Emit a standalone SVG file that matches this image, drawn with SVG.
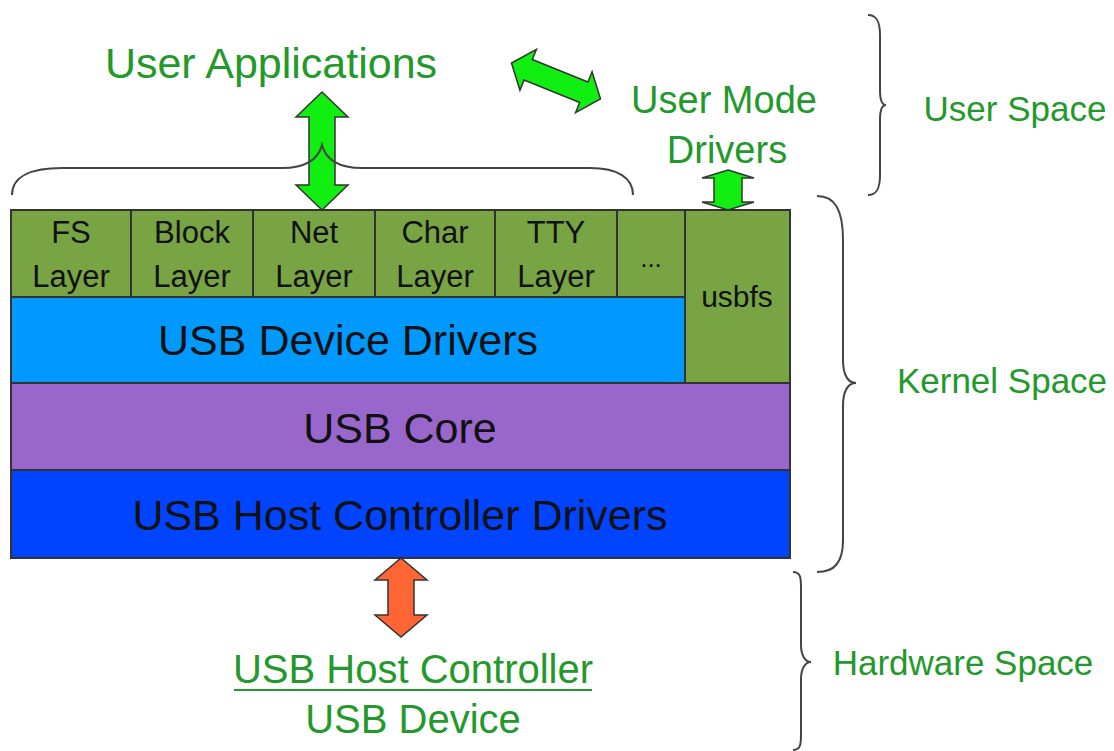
<svg xmlns="http://www.w3.org/2000/svg" width="1114" height="751" viewBox="0 0 1114 751">
<style>
.blk{stroke:#333;stroke-width:2}
.lay{fill:#78a444}
.t{font-family:"Liberation Sans",Arial,sans-serif;fill:#111;text-anchor:middle}
.g{font-family:"Liberation Sans",Arial,sans-serif;fill:#22992a;text-anchor:middle}
.br{fill:none;stroke:#444;stroke-width:2}
.ag{fill:#11ee11;stroke:#333;stroke-width:1.5}
.ao{fill:#ff6633;stroke:#333;stroke-width:1.5}
</style>
<rect width="1114" height="751" fill="#ffffff"/>
<g id="fs-layer"><rect class="blk lay" x="11" y="210" width="120" height="87"/><text class="t" font-size="31" x="71" y="243">FS</text><text class="t" font-size="31" x="71" y="287">Layer</text></g>
<g id="block-layer"><rect class="blk lay" x="131" y="210" width="122" height="87"/><text class="t" font-size="31" x="192" y="243">Block</text><text class="t" font-size="31" x="192" y="287">Layer</text></g>
<g id="net-layer"><rect class="blk lay" x="253" y="210" width="122" height="87"/><text class="t" font-size="31" x="314" y="243">Net</text><text class="t" font-size="31" x="314" y="287">Layer</text></g>
<g id="char-layer"><rect class="blk lay" x="375" y="210" width="120" height="87"/><text class="t" font-size="31" x="435" y="243">Char</text><text class="t" font-size="31" x="435" y="287">Layer</text></g>
<g id="tty-layer"><rect class="blk lay" x="495" y="210" width="122" height="87"/><text class="t" font-size="31" x="556" y="243">TTY</text><text class="t" font-size="31" x="556" y="287">Layer</text></g>
<g id="more-layer"><rect class="blk lay" x="617" y="210" width="68" height="87"/><text class="t" font-size="26" x="651" y="267">...</text></g>
<g id="usbfs"><rect class="blk lay" x="685" y="210" width="105" height="173"/><text class="t" font-size="30" x="737" y="307">usbfs</text></g>
<g id="usb-device-drivers"><rect class="blk" fill="#0099ff" x="11" y="297" width="674" height="86"/><text class="t" font-size="43" x="348" y="355">USB Device Drivers</text></g>
<g id="usb-core"><rect class="blk" fill="#9966cc" x="11" y="383" width="779" height="87"/><text class="t" font-size="43" x="400" y="443">USB Core</text></g>
<g id="usb-hcd"><rect class="blk" fill="#0044ff" x="11" y="470" width="779" height="88"/><text class="t" font-size="43" x="400" y="530">USB Host Controller Drivers</text></g>
<g id="user-applications"><text class="g" font-size="43" x="271" y="78">User Applications</text></g>
<g id="user-mode-drivers"><text class="g" font-size="38" x="724" y="113">User Mode</text><text class="g" font-size="38" x="727" y="163">Drivers</text></g>
<g id="usb-hw"><text class="g" font-size="40" x="413" y="683">USB Host Controller</text><line x1="234" y1="690" x2="592" y2="690" stroke="#22992a" stroke-width="2"/><text class="g" font-size="40" x="413" y="733">USB Device</text></g>
<g id="user-space"><text class="g" font-size="35" x="1015" y="121">User Space</text></g>
<g id="kernel-space"><text class="g" font-size="35" x="1002" y="393">Kernel Space</text></g>
<g id="hardware-space"><text class="g" font-size="35" x="963" y="675">Hardware Space</text></g>
<g id="connectors">
<polygon class="ag" points="322,92 348,117 335,117 335,185 348,185 322,210 296,185 309,185 309,117 296,117"/>
<polygon class="ag" points="728,170 754,178 742,178 742,202 754,202 728,210 702,202 714,202 714,178 702,178"/>
<polygon class="ag" transform="translate(556,81) rotate(22)" points="-48,0 -30,-22 -30,-11 30,-11 30,-22 48,0 30,22 30,11 -30,11 -30,22"/>
<polygon class="ao" points="401,558 427,580 414,580 414,615 427,615 401,637 375,615 388,615 388,580 375,580"/>
</g>
<g id="braces">
<path class="br" d="M 12 195 C 12 176, 32 168, 62 168 L 282 168 C 306 168, 318 160, 322 145 C 326 160, 338 168, 362 168 L 590 168 C 618 168, 633 178, 633 195"/>
<path class="br" d="M 868 15 C 877 15, 880 22, 880 35 L 880 90 C 880 100, 882 105, 886 105 C 882 105, 880 110, 880 120 L 880 175 C 880 188, 877 195, 868 195"/>
<path class="br" d="M 817 196 C 835 196, 843 210, 843 240 L 843 360 C 843 375, 848 383, 856 383 C 848 383, 843 391, 843 406 L 843 540 C 843 562, 835 572, 817 572"/>
<path class="br" d="M 793 572 C 802 572, 801 580, 801 595 L 801 645 C 801 655, 805 662, 811 662 C 805 662, 801 669, 801 679 L 801 728 C 801 742, 802 750, 793 750"/>
</g>
</svg>
